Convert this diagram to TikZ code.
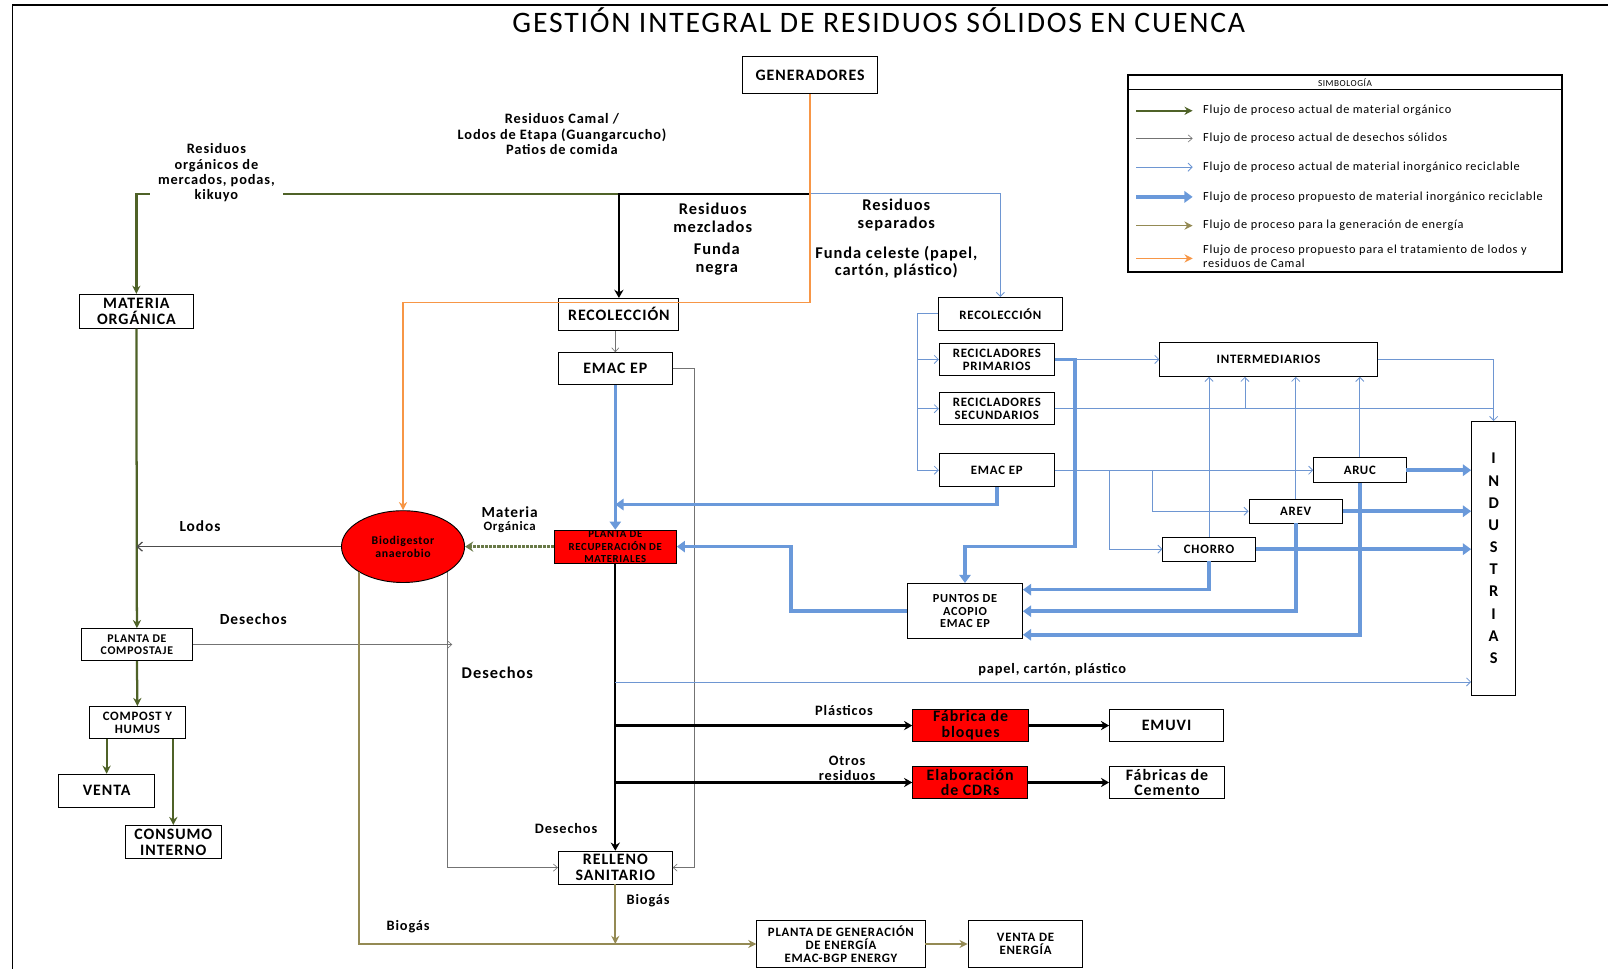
\documentclass[tikz,border=0pt]{standalone}
\usepackage{fontspec}
\setmainfont{Carlito}[LetterSpace=6]
\usetikzlibrary{arrows.meta,shapes.geometric}
\definecolor{orggreen}{RGB}{79,98,40}
\definecolor{wastegray}{RGB}{115,115,115}
\definecolor{recblue}{RGB}{110,150,210}
\definecolor{propblue}{RGB}{106,153,218}
\definecolor{olive}{RGB}{148,138,84}
\definecolor{camalorange}{RGB}{247,150,70}

\begin{document}
\begin{tikzpicture}[x=1pt, y=-1pt,
    box/.style={draw, line width=0.9pt, fill=white, align=center, inner sep=0.5pt},
    bigbox/.style={box, font=\fontsize{15.5}{15.5}\selectfont\bfseries},
    midbox/.style={box, font=\fontsize{12.5}{12.5}\selectfont\bfseries},
    redbox/.style={fill=red},
    lbl/.style={align=center, inner sep=1pt, font=\fontsize{15}{15}\selectfont\bfseries},
    leglbl/.style={anchor=west, inner sep=0pt, align=left, font=\fontsize{12}{14}\selectfont},
    orgflow/.style={draw=orggreen, line width=2.2pt, -{Stealth[length=8pt,width=8pt]}},
    mixflow/.style={draw=black, line width=2.2pt, -{Stealth[length=8pt,width=9pt]}},
    waste/.style={draw=wastegray, line width=0.6pt, -{Straight Barb[length=4pt,width=7pt]}},
    recflow/.style={draw=recblue, line width=0.8pt, -{Straight Barb[length=4pt,width=8pt]}},
    propflow/.style={draw=propblue, line width=3.5pt, -{Triangle[length=8pt,width=11pt]}},
    energy/.style={draw=olive, line width=1.6pt, -{Stealth[length=8pt,width=8pt]}},
    camal/.style={draw=camalorange, line width=1.8pt, -{Stealth[length=8pt,width=8pt]}},
    lodos/.style={draw=black!70, line width=1.2pt, -{Straight Barb[length=5pt,width=9pt]}},
    dotflow/.style={draw=orggreen!85, line width=3pt, densely dotted, -{Stealth[length=8pt,width=10pt]}}]
    \useasboundingbox (0,0) rectangle (1568,945);
    \draw[line width=2pt] (12,5) -- (1568,5);
    \draw[line width=1pt] (12,5) -- (12,945);
    \node[font=\fontsize{29}{30}\selectfont] (title) at (857,20) {GESTIÓN INTEGRAL DE RESIDUOS SÓLIDOS EN CUENCA};

    \node[bigbox, minimum width=132, minimum height=36] (gen) at (790,73) {GENERADORES};
    \node[bigbox, minimum width=112, minimum height=33] (mo) at (133,303.5) {MATERIA\\ORGÁNICA};
    \node[bigbox, minimum width=117, minimum height=31] (recc) at (603.5,306.5) {RECOLECCIÓN};
    \node[bigbox, minimum width=111, minimum height=31] (emacc) at (600,359.5) {EMAC EP};
    \node[draw, ellipse, fill=red, line width=0.9pt, minimum width=120, minimum height=70, align=center, font=\fontsize{11.5}{13}\selectfont\bfseries] (bio) at (393,533) {Biodigestor\\anaerobio};
    \node[box, redbox, minimum width=119, minimum height=32] (prm) at (600,533) {};
    \node[align=center, inner sep=0pt, font=\fontsize{10.5}{12.5}\selectfont\bfseries] (prmtext) at (prm) {PLANTA DE\\RECUPERACIÓN DE\\MATERIALES};
    \node[box, minimum width=109, minimum height=31, font=\fontsize{11.5}{12}\selectfont\bfseries] (pc) at (133.5,628.5) {PLANTA DE\\COMPOSTAJE};
    \node[midbox, minimum width=94, minimum height=31] (ch) at (134,704.5) {COMPOST Y\\HUMUS};
    \node[bigbox, minimum width=94, minimum height=32] (venta) at (104,771) {VENTA};
    \node[bigbox, minimum width=94, minimum height=32] (ci) at (169,821) {CONSUMO\\INTERNO};
    \node[bigbox, minimum width=111, minimum height=32] (rs) at (600,846) {RELLENO\\SANITARIO};
    \node[midbox, minimum width=164, minimum height=45] (pge) at (820,920.5) {PLANTA DE GENERACIÓN\\DE ENERGÍA\\EMAC-BGP ENERGY};
    \node[midbox, minimum width=112, minimum height=45] (ve) at (1000,920.5) {VENTA DE\\ENERGÍA};
    \node[bigbox, redbox, minimum width=113, minimum height=31] (fb) at (946.5,707.5) {Fábrica de\\bloques};
    \node[bigbox, minimum width=111, minimum height=31] (emuvi) at (1137.5,707.5) {EMUVI};
    \node[bigbox, redbox, minimum width=112, minimum height=32] (cdr) at (946,763) {Elaboración\\de CDRs};
    \node[bigbox, minimum width=112, minimum height=32] (fc) at (1138,763) {Fábricas de\\Cemento};

    \node[midbox, minimum width=121, minimum height=32] (recr) at (975.5,306) {RECOLECCIÓN};
    \node[midbox, minimum width=112, minimum height=32] (rp) at (972,350.5) {RECICLADORES\\PRIMARIOS};
    \node[midbox, minimum width=112, minimum height=31] (rsec) at (972,398.5) {RECICLADORES\\SECUNDARIOS};
    \node[midbox, minimum width=112, minimum height=32] (emacr) at (972,458.5) {EMAC EP};
    \node[midbox, minimum width=212, minimum height=33] (inter) at (1237,350.5) {INTERMEDIARIOS};
    \node[midbox, minimum width=90, minimum height=24] (aruc) at (1326,458.5) {ARUC};
    \node[midbox, minimum width=91, minimum height=23] (arev) at (1263.5,498.5) {AREV};
    \node[midbox, minimum width=90, minimum height=23] (chorro) at (1179,535.5) {CHORRO};
    \node[midbox, minimum width=112, minimum height=54, font=\fontsize{12}{12}\selectfont\bfseries] (pa) at (941,596) {PUNTOS DE\\ACOPIO\\EMAC EP};
    \node[box, minimum width=43, minimum height=267, font=\fontsize{16}{21.6}\selectfont\bfseries] (ind) at (1456.5,544.5) {I\\N\\D\\U\\S\\T\\R\\I\\A\\S};

    \coordinate (split) at (790,189);
    \draw[orgflow] (split) -| (mo.north);
    \draw[mixflow] (split) -| (recc.north);
    \draw[recflow] (split) -| (recr.north);
    \draw[camal] (gen.south) |- (bio.north |- 0,295) -- (bio.north);

    \draw[orgflow] (mo.south) -- (pc.north);
    \draw[orgflow] (pc.south) -- (ch.north);
    \draw[orgflow] (venta.north |- ch.south) -- (venta.north);
    \draw[orgflow] (ci.north |- ch.south) -- (ci.north);
    \draw[lodos] (bio.west) -- (mo.south |- bio.west);
    \coordinate (desend) at (441,628.5);
    \draw[waste] (pc.east) -- (desend);
    \draw[waste] (bio.-30) |- (rs.west);
    \draw[energy] (bio.-150) |- (pge.west);
    \draw[energy] (rs.south) -- (rs.south |- pge.west);
    \draw[energy] (pge.east) -- (ve.west);

    \draw[waste] (emacc.north |- recc.south) -- (emacc.north);
    \draw[waste] (emacc.east) -- ++(21,0) |- (rs.east);
    \draw[propflow] (emacc.south) -- (prm.north);
    \draw[propflow] (emacr.south) |- (prm.north |- 0,492);
    \draw[propflow] (pa.west) -- ++(-113,0) |- (prm.east);
    \draw[dotflow] (prm.west) -- (bio.east);
    \draw[mixflow] (prm.south) -- (rs.north);
    \draw[mixflow] (prm.south |- fb.west) -- (fb.west);
    \draw[mixflow] (prm.south |- cdr.west) -- (cdr.west);
    \draw[recflow] (prm.south |- 0,665) -- (ind.west |- 0,665);
    \draw[mixflow] (fb.east) -- (emuvi.west);
    \draw[mixflow] (cdr.east) -- (fc.west);

    \draw[recflow] (recr.west) -- ++(-20,0) coordinate (bus) |- (emacr.west);
    \draw[recflow] (bus |- rp.west) -- (rp.west);
    \draw[recflow] (bus |- rsec.west) -- (rsec.west);
    \draw[recflow] (rp.east) -- (inter.west);
    \draw[propflow] (rp.east) -- ++(20,0) |- (pa.north |- 0,533) -- (pa.north);
    \draw[recflow] (inter.east) -| (ind.north);
    \draw[recflow, -] (rsec.east) -- (ind.north |- rsec.east);
    \draw[recflow] (rsec.east -| 1214,0) -- (inter.south -| 1214,0);
    \draw[recflow] (chorro.north) -- (chorro.north |- inter.south);
    \draw[recflow] (arev.north) -- (arev.north |- inter.south);
    \draw[recflow] (aruc.north) -- (aruc.north |- inter.south);
    \draw[recflow] (emacr.east) -- (aruc.west);
    \draw[recflow] (emacr.east -| 1082,0) |- (chorro.west);
    \draw[recflow] (emacr.east -| 1124,0) |- (arev.west);
    \draw[propflow] (aruc.east) -- (ind.west |- aruc.east);
    \draw[propflow] (arev.east) -- (ind.west |- arev.east);
    \draw[propflow] (chorro.east) -- (ind.west |- chorro.east);
    \draw[propflow] (chorro.south) |- ([yshift=21pt]pa.east);
    \draw[propflow] (arev.south) |- (pa.east);
    \draw[propflow] (aruc.south) |- ([yshift=-23pt]pa.east);

    \node[lbl, fill=white, inner xsep=8pt, font=\fontsize{14}{15}\selectfont\bfseries] (orglbl) at (211,168.5) {Residuos\\orgánicos de\\mercados, podas,\\kikuyo};
    \node[lbl, font=\fontsize{14}{15}\selectfont\bfseries] (camallbl) at (548,131) {Residuos Camal /\\Lodos de Etapa (Guangarcucho)\\Patios de comida};
    \node[lbl, font=\fontsize{16}{17}\selectfont\bfseries] (mezlbl) at (695,212.5) {Residuos\\mezclados};
    \node[lbl, font=\fontsize{16}{17}\selectfont\bfseries] (negralbl) at (699,252.5) {Funda\\negra};
    \node[lbl, font=\fontsize{16}{17}\selectfont\bfseries] (seplbl) at (874,209.5) {Residuos\\separados};
    \node[lbl, font=\fontsize{16}{17}\selectfont\bfseries] (celestelbl) at (874,255.5) {Funda celeste (papel,\\cartón, plástico)};
    \node[lbl] (lodoslbl) at (195,513) {Lodos};
    \node[lbl] (deslbla) at (247,604) {Desechos};
    \node[lbl] (matlbl) at (497,499) {Materia};
    \node[lbl, font=\fontsize{12.5}{12}\selectfont\bfseries] (orglblb) at (497,514) {Orgánica};
    \node[lbl, font=\fontsize{16}{16}\selectfont\bfseries] (deslblb) at (485,656) {Desechos};
    \node[lbl, font=\fontsize{14}{15}\selectfont\bfseries] (deslblc) at (552,808) {Desechos};
    \node[lbl, font=\fontsize{14}{15}\selectfont\bfseries] (biolbla) at (632,878) {Biogás};
    \node[lbl, font=\fontsize{14}{15}\selectfont\bfseries] (biolblb) at (398,904) {Biogás};
    \node[lbl, font=\fontsize{14}{15}\selectfont\bfseries] (plaslbl) at (823,693) {Plásticos};
    \node[lbl, font=\fontsize{14}{15}\selectfont\bfseries] (otroslbl) at (826,749) {Otros\\residuos};
    \node[lbl, font=\fontsize{14}{15}\selectfont\bfseries] (papellbl) at (1026,653) {papel, cartón, plástico};

    \node[draw, line width=1.6pt, minimum width=423, minimum height=192] (leg) at (1311.5,169) {};
    \node[font=\fontsize{9}{9}\selectfont] (simb) at (1311.5,80.5) {SIMBOLOGÍA};
    \draw[line width=0.6pt] (leg.west |- 0,87) -- (leg.east |- 0,87);
    \node[leglbl] (l1) at (1173,108) {Flujo de proceso actual de material orgánico};
    \node[leglbl] (l2) at (1173,135) {Flujo de proceso actual de desechos sólidos};
    \node[leglbl] (l3) at (1173,163) {Flujo de proceso actual de material inorgánico reciclable};
    \node[leglbl] (l4) at (1173,192) {Flujo de proceso propuesto de material inorgánico reciclable};
    \node[leglbl] (l5) at (1173,220) {Flujo de proceso para la generación de energía};
    \node[leglbl] (l6) at (1173,250) {Flujo de proceso propuesto para el tratamiento de lodos y\\residuos de Camal};
    \draw[orgflow] ([xshift=-65pt]l1.west) -- ([xshift=-10pt]l1.west);
    \draw[waste] ([xshift=-65pt]l2.west) -- ([xshift=-10pt]l2.west);
    \draw[recflow] ([xshift=-65pt]l3.west) -- ([xshift=-10pt]l3.west);
    \draw[propflow] ([xshift=-65pt]l4.west) -- ([xshift=-10pt]l4.west);
    \draw[energy] ([xshift=-65pt]l5.west) -- ([xshift=-10pt]l5.west);
    \draw[camal] ([xshift=-65pt,yshift=-2pt]l6.west) -- ([xshift=-10pt,yshift=-2pt]l6.west);
\end{tikzpicture}
\end{document}
